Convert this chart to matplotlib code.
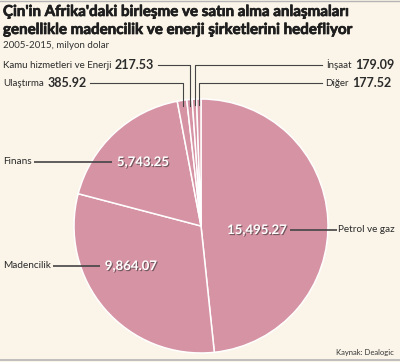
import matplotlib
matplotlib.use("Agg")
import numpy as np
import matplotlib.pyplot as plt
import matplotlib.patheffects as pe

# ============================================
# Data
# ============================================

sectors = ["Petrol ve gaz", "Madencilik", "Finans", "Ulaştırma",
           "Kamu hizmetleri ve Enerji", "İnşaat", "Diğer"]
values = [15495.27, 9864.07, 5743.25, 385.92, 217.53, 179.09, 177.52]
value_labels = ["15,495.27", "9,864.07", "5,743.25", "385.92",
                "217.53", "179.09", "177.52"]

title_lines = ["Çin'in Afrika'daki birleşme ve satın alma anlaşmaları",
               "genellikle madencilik ve enerji şirketlerini hedefliyor"]
subtitle = "2005-2015, milyon dolar"
source = "Kaynak: Dealogic"

# ============================================
# Style
# ============================================

W, H = 400, 362
BG = "#fbf5e9"
PINK = "#d693a4"
DARK = "#2b2b2b"
LINE = "#444444"
FONT = "Lato"

CX, CY, R = 201, H - 226, 127

fig = plt.figure(figsize=(W / 100, H / 100), dpi=100)
fig.patch.set_facecolor(BG)
ax = fig.add_axes([0, 0, 1, 1])
ax.set_facecolor(BG)

wedges, _ = ax.pie(values, startangle=90, counterclock=False,
                   center=(CX, CY), radius=R, colors=[PINK] * len(values),
                   wedgeprops=dict(edgecolor="white", linewidth=1.1))
ax.set_xlim(0, W)
ax.set_ylim(0, H)
ax.set_aspect("equal")
ax.axis("off")


def y_(py):
    # picture rows -> data y
    return H - py


def mid_point(w, r):
    a = np.deg2rad((w.theta1 + w.theta2) / 2)
    return CX + r * np.cos(a), CY + r * np.sin(a)


shadow = [pe.SimplePatchShadow(offset=(0.8, -0.8), shadow_rgbFace="#333333", alpha=0.6),
          pe.Normal()]
heavy = [pe.withStroke(linewidth=0.5, foreground="#1e1e1e")]

# --- big slices: label, leader line, white value inside ---
big = {
    0: dict(y=230, label_x=338, line=(290, 337), val_x=257),
    1: dict(y=266, label_x=3, line=(53, 100), val_x=131),
    2: dict(y=162, label_x=3, line=(34, 112), val_x=143),
}
for i, s in big.items():
    yy = y_(s["y"])
    ax.plot(s["line"], [yy, yy], color=LINE, lw=1.2, solid_capstyle="butt")
    ax.text(s["label_x"], yy, sectors[i], ha="left", va="center",
            fontsize=7.2, color=DARK, family=FONT)
    ax.text(s["val_x"], yy, value_labels[i], ha="center", va="center",
            fontsize=9.5, fontweight="bold", color="white", family=FONT,
            path_effects=shadow)

# --- small slices: elbow leader lines to the top ---
small = {
    3: dict(y=83, end=90, label_x=3),
    4: dict(y=65, end=158, label_x=3),
    5: dict(y=65, end=322, label_x=326),
    6: dict(y=83, end=322, label_x=325),
}
for i, s in small.items():
    x0, y0 = mid_point(wedges[i], R - 6)
    yy = y_(s["y"])
    ax.plot([x0, x0, s["end"]], [y0, yy, yy], color=LINE, lw=0.8)
    name = ax.text(s["label_x"], yy, sectors[i], ha="left", va="center",
                   fontsize=7, color=DARK, family=FONT)
    ax.annotate(value_labels[i], xy=(1, 0.5), xycoords=name,
                xytext=(2.5, 0), textcoords="offset points",
                ha="left", va="center", fontsize=9, fontweight="bold",
                color=DARK, family=FONT)

# --- titles ---
for k, line in enumerate(title_lines):
    ax.text(3, y_(12 + 18 * k), line, ha="left", va="center", fontsize=10.9,
            fontweight="bold", color="#1e1e1e", family=FONT, path_effects=heavy)
ax.text(3, y_(46), subtitle, ha="left", va="center", fontsize=7,
        color="#333333", family=FONT)
ax.text(394, y_(352), source, ha="right", va="center", fontsize=5.5,
        color="#333333", family=FONT)

ax.plot([0, W], [y_(360), y_(360)], color="#b5b5b5", lw=1.2)
ax.plot([0, W], [y_(0.5), y_(0.5)], color="#b5b5b5", lw=1.0)

fig.savefig("out.png", dpi=100, facecolor=BG)
